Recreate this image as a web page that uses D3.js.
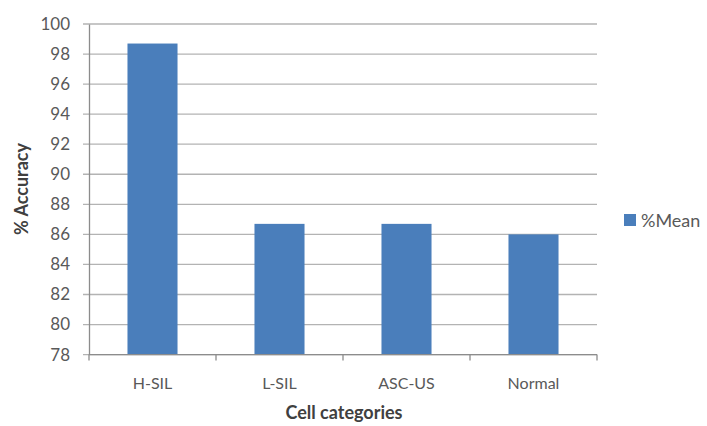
<!DOCTYPE html>
<html><head><meta charset="utf-8">
<script src="https://cdn.jsdelivr.net/npm/d3@7"></script>
<style>body{margin:0;background:#fff;} svg{display:block;}</style>
</head><body>
<script>
const categories = ["H-SIL", "L-SIL", "ASC-US", "Normal"];
const meanValues = [98.7, 86.7, 86.7, 86.0];
const yTicks = [78, 80, 82, 84, 86, 88, 90, 92, 94, 96, 98, 100];
const seriesName = "%Mean";
const xTitle = "Cell categories";
const yTitle = "% Accuracy";

const W = 707, H = 426;
const m = {left: 89, right: 110, top: 24, bottom: 71};
const font = "Lato, 'Open Sans', sans-serif";
const svg = d3.select("body").append("svg").attr("width", W).attr("height", H);

const x = d3.scaleBand().domain(categories).range([m.left, 597]).paddingInner(0.606).paddingOuter(0.303);
const y = d3.scaleLinear().domain([78, 100]).range([354.6, m.top]);

// gridlines
svg.append("g").selectAll("line").data(yTicks).join("line")
  .attr("x1", m.left - 6).attr("x2", 597)
  .attr("y1", d => y(d)).attr("y2", d => y(d))
  .attr("stroke", "#b3b3b3").attr("stroke-width", 1.3);

// bars
svg.append("g").selectAll("rect").data(categories).join("rect")
  .attr("x", d => x(d)).attr("width", x.bandwidth())
  .attr("y", (d, i) => y(meanValues[i]))
  .attr("height", (d, i) => y(78) - y(meanValues[i]))
  .attr("fill", "#4a7ebb");

// y axis
const ya = svg.append("g").attr("transform", `translate(${m.left},0)`)
  .call(d3.axisLeft(y).tickValues(yTicks).tickSize(0).tickPadding(19));
ya.select(".domain").attr("stroke", "#8c8c8c").attr("stroke-width", 1.3);
ya.selectAll("text").attr("font-family", font).attr("font-size", 17).attr("fill", "#595959");

// x axis
const step = x.step();
const xa = svg.append("g").attr("transform", `translate(0,${y(78)})`);
xa.append("line").attr("x1", m.left).attr("x2", 597).attr("stroke", "#8c8c8c").attr("stroke-width", 1.3);
const xb = d3.range(categories.length + 1).map(i => m.left + i * step);
xa.selectAll(".tk").data(xb).join("line").attr("class", "tk")
  .attr("x1", d => d).attr("x2", d => d).attr("y1", 0).attr("y2", 6)
  .attr("stroke", "#8c8c8c").attr("stroke-width", 1.3);
xa.selectAll("text").data(categories).join("text")
  .attr("x", d => x(d) + x.bandwidth() / 2).attr("y", 34)
  .attr("text-anchor", "middle").attr("font-family", font).attr("font-size", 16).attr("fill", "#595959")
  .text(d => d);

// titles
svg.append("text").attr("x", 344).attr("y", 419).attr("text-anchor", "middle")
  .attr("font-family", font).attr("font-size", 18).attr("font-weight", "bold").attr("fill", "#404040").text(xTitle);
svg.append("text").attr("transform", "translate(28,189) rotate(-90)").attr("text-anchor", "middle")
  .attr("font-family", font).attr("font-size", 18).attr("font-weight", "bold").attr("fill", "#404040").text(yTitle);

// legend
const lg = svg.append("g").attr("transform", "translate(624,214)");
lg.append("rect").attr("width", 12).attr("height", 12).attr("fill", "#4a7ebb");
lg.append("text").attr("x", 17).attr("y", 12.5).attr("font-family", font).attr("font-size", 18).attr("fill", "#595959").text(seriesName);
</script>
</body></html>
